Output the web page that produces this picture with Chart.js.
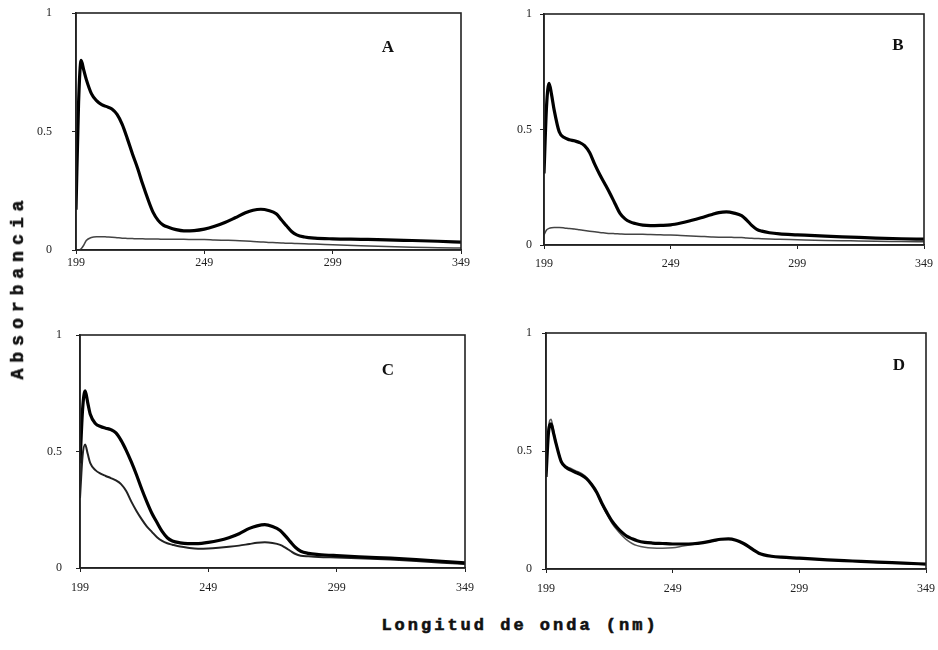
<!DOCTYPE html>
<html>
<head>
<meta charset="utf-8">
<script src="https://cdn.jsdelivr.net/npm/chart.js"></script>
<style>
  body { margin:0; background:#fff; width:938px; height:650px; position:relative; overflow:hidden; }
  .panel { position:absolute; }
  .letter { position:absolute; font:bold 17px "Liberation Serif", "DejaVu Serif", serif; color:#111; transform:translate(-50%,-50%); }
  .ytitle { position:absolute; left:18px; top:287px; transform:translate(-50%,-50%) rotate(-90deg); white-space:nowrap;
            font:bold 18px "Liberation Mono", "DejaVu Sans Mono", monospace; letter-spacing:6px; color:#111;
            -webkit-text-stroke:0.6px #111; }
  .xtitle { position:absolute; left:520px; top:625px; transform:translate(-50%,-50%); white-space:nowrap;
            font:bold 17px "Liberation Mono", "DejaVu Sans Mono", monospace; letter-spacing:3px; color:#111;
            -webkit-text-stroke:0.6px #111; }
</style>
</head>
<body>
<div class="panel" style="left:0;top:0"><canvas id="chart-a" width="480" height="295"></canvas></div>
<div class="panel" style="left:469px;top:0"><canvas id="chart-b" width="469" height="295"></canvas></div>
<div class="panel" style="left:0;top:320px"><canvas id="chart-c" width="480" height="290"></canvas></div>
<div class="panel" style="left:469px;top:320px"><canvas id="chart-d" width="469" height="290"></canvas></div>

<div class="letter" style="left:388px;top:47px">A</div>
<div class="letter" style="left:898px;top:45px">B</div>
<div class="letter" style="left:388px;top:370px">C</div>
<div class="letter" style="left:899px;top:365px">D</div>

<div class="ytitle">Absorbancia</div>
<div class="xtitle">Longitud de onda (nm)</div>

<script>
/* ── UV spectra, four panels (A–D) ───── */

const wavelengths = [199, 200, 201, 202, 203, 205, 207, 209, 211, 213, 215, 217, 219, 221, 223, 225, 227, 229, 231, 233, 235, 238, 241, 245, 249, 253, 257, 261, 265, 268, 271, 274, 277, 279, 281, 283, 285, 288, 292, 299, 310, 320, 330, 340, 349];
const xTicks = [199, 249, 299, 349];
const yTicks = [0, 0.5, 1];

// panel A
const thickA = [0.17, 0.62, 0.80, 0.76, 0.72, 0.66, 0.63, 0.613, 0.605, 0.595, 0.572, 0.53, 0.47, 0.405, 0.345, 0.277, 0.215, 0.16, 0.125, 0.105, 0.096, 0.086, 0.081, 0.082, 0.088, 0.100, 0.116, 0.136, 0.157, 0.168, 0.172, 0.167, 0.153, 0.128, 0.102, 0.078, 0.064, 0.055, 0.050, 0.047, 0.045, 0.043, 0.040, 0.037, 0.033];
const thinA = [0, 0, 0.005, 0.02, 0.04, 0.053, 0.056, 0.056, 0.055, 0.054, 0.052, 0.050, 0.049, 0.048, 0.047, 0.047, 0.046, 0.046, 0.046, 0.045, 0.045, 0.045, 0.045, 0.044, 0.044, 0.042, 0.041, 0.040, 0.038, 0.036, 0.034, 0.032, 0.031, 0.030, 0.028, 0.028, 0.027, 0.026, 0.025, 0.022, 0.018, 0.015, 0.012, 0.010, 0.008];

// panel B
const thickB = [0.31, 0.60, 0.70, 0.65, 0.585, 0.49, 0.465, 0.456, 0.451, 0.444, 0.43, 0.40, 0.35, 0.305, 0.265, 0.224, 0.18, 0.137, 0.113, 0.100, 0.093, 0.086, 0.084, 0.085, 0.087, 0.095, 0.106, 0.118, 0.131, 0.140, 0.143, 0.138, 0.127, 0.108, 0.085, 0.068, 0.060, 0.053, 0.048, 0.044, 0.038, 0.034, 0.030, 0.027, 0.025];
const thinB = [0.043, 0.065, 0.072, 0.075, 0.076, 0.076, 0.074, 0.071, 0.069, 0.066, 0.063, 0.060, 0.057, 0.054, 0.052, 0.050, 0.049, 0.048, 0.047, 0.047, 0.046, 0.046, 0.045, 0.044, 0.043, 0.041, 0.039, 0.037, 0.035, 0.034, 0.034, 0.033, 0.032, 0.030, 0.029, 0.028, 0.027, 0.026, 0.025, 0.023, 0.020, 0.018, 0.016, 0.015, 0.014];

// panel C
const thickC = [0.45, 0.68, 0.76, 0.71, 0.66, 0.62, 0.607, 0.600, 0.594, 0.58, 0.548, 0.505, 0.455, 0.40, 0.34, 0.285, 0.235, 0.195, 0.157, 0.130, 0.116, 0.108, 0.105, 0.105, 0.110, 0.118, 0.13, 0.147, 0.17, 0.181, 0.186, 0.178, 0.161, 0.138, 0.112, 0.088, 0.072, 0.063, 0.058, 0.053, 0.047, 0.042, 0.036, 0.029, 0.022];
const thinC = [0.30, 0.48, 0.53, 0.49, 0.45, 0.42, 0.405, 0.395, 0.386, 0.376, 0.36, 0.33, 0.285, 0.245, 0.21, 0.179, 0.155, 0.132, 0.116, 0.106, 0.100, 0.092, 0.087, 0.083, 0.084, 0.087, 0.091, 0.096, 0.103, 0.108, 0.110, 0.107, 0.099, 0.087, 0.073, 0.060, 0.053, 0.050, 0.047, 0.045, 0.041, 0.036, 0.030, 0.023, 0.017];

// panel D
const thickD = [0.39, 0.58, 0.615, 0.575, 0.53, 0.455, 0.43, 0.418, 0.408, 0.398, 0.383, 0.358, 0.325, 0.28, 0.24, 0.204, 0.177, 0.155, 0.138, 0.128, 0.12, 0.113, 0.110, 0.108, 0.106, 0.106, 0.107, 0.112, 0.12, 0.126, 0.128, 0.122, 0.108, 0.095, 0.08, 0.067, 0.060, 0.054, 0.050, 0.046, 0.039, 0.034, 0.029, 0.025, 0.021];
const thinD = [0.40, 0.60, 0.635, 0.585, 0.535, 0.46, 0.435, 0.425, 0.415, 0.405, 0.388, 0.36, 0.322, 0.275, 0.232, 0.195, 0.166, 0.142, 0.122, 0.108, 0.099, 0.092, 0.089, 0.088, 0.090, 0.097, 0.104, 0.111, 0.119, 0.125, 0.127, 0.121, 0.107, 0.094, 0.079, 0.066, 0.059, 0.053, 0.049, 0.045, 0.038, 0.033, 0.028, 0.024, 0.020];

// box around the plot area
const frame = {
  id: 'frame',
  afterDraw(chart) {
    const { ctx, chartArea: a } = chart;
    ctx.save();
    ctx.strokeStyle = '#222';
    ctx.lineWidth = 1.6;
    ctx.strokeRect(a.left, a.top, a.right - a.left, a.bottom - a.top);
    ctx.restore();
  }
};

const toPts = ys => ys.map((y, i) => ({ x: wavelengths[i], y }));

// fixed axis sizes so the plot boxes land where the reference has them
function fixSize(prop, n) {
  return s => {
    s[prop] = n;
    s.paddingTop = 0; s.paddingBottom = 0; s.paddingLeft = 0; s.paddingRight = 0;
  };
}

function makePanel(id, thick, thin, lay) {
  new Chart(document.getElementById(id), {
    type: 'line',
    data: {
      datasets: [
        { data: toPts(thick), borderColor: '#000', borderWidth: 3.2 },
        { data: toPts(thin), borderColor: lay.thinColor, borderWidth: lay.thinWidth }
      ]
    },
    options: {
      responsive: false,
      animation: false,
      layout: { padding: { left: 0, top: lay.top, right: lay.right, bottom: 0 } },
      elements: { point: { radius: 0 }, line: { cubicInterpolationMode: 'monotone' } },
      plugins: { legend: { display: false }, tooltip: { enabled: false } },
      scales: {
        x: {
          type: 'linear', min: 199, max: 349,
          afterBuildTicks: s => { s.ticks = xTicks.map(v => ({ value: v })); },
          afterFit: fixSize('height', lay.xh),
          grid: { drawOnChartArea: false, tickLength: 4, color: '#222' },
          border: { color: '#222', width: 1.6 },
          ticks: { color: '#222', padding: lay.xpad, maxRotation: 0, font: { family: 'Liberation Serif', size: 12 } }
        },
        y: {
          min: 0, max: 1,
          afterBuildTicks: s => { s.ticks = yTicks.map(v => ({ value: v })); },
          afterFit: fixSize('width', lay.yw),
          grid: { drawOnChartArea: false, tickLength: 4, color: '#222' },
          border: { color: '#222', width: 1.6 },
          ticks: { color: '#222', padding: lay.ypad, callback: v => String(v), font: { family: 'Liberation Serif', size: 12 } }
        }
      }
    },
    plugins: [frame]
  });
}

makePanel('chart-a', thickA, thinA, { top: 13, right: 19, xh: 45, yw: 76, xpad: 2, ypad: 20, thinColor: '#444', thinWidth: 1.5 });
makePanel('chart-b', thickB, thinB, { top: 14, right: 14, xh: 50, yw: 75, xpad: 8, ypad: 8, thinColor: '#444', thinWidth: 1.5 });
makePanel('chart-c', thickC, thinC, { top: 15, right: 15, xh: 42, yw: 80, xpad: 9, ypad: 14, thinColor: '#222', thinWidth: 2 });
makePanel('chart-d', thickD, thinD, { top: 13, right: 12, xh: 41, yw: 77, xpad: 9, ypad: 10, thinColor: '#555', thinWidth: 1.5 });
</script>
</body>
</html>
